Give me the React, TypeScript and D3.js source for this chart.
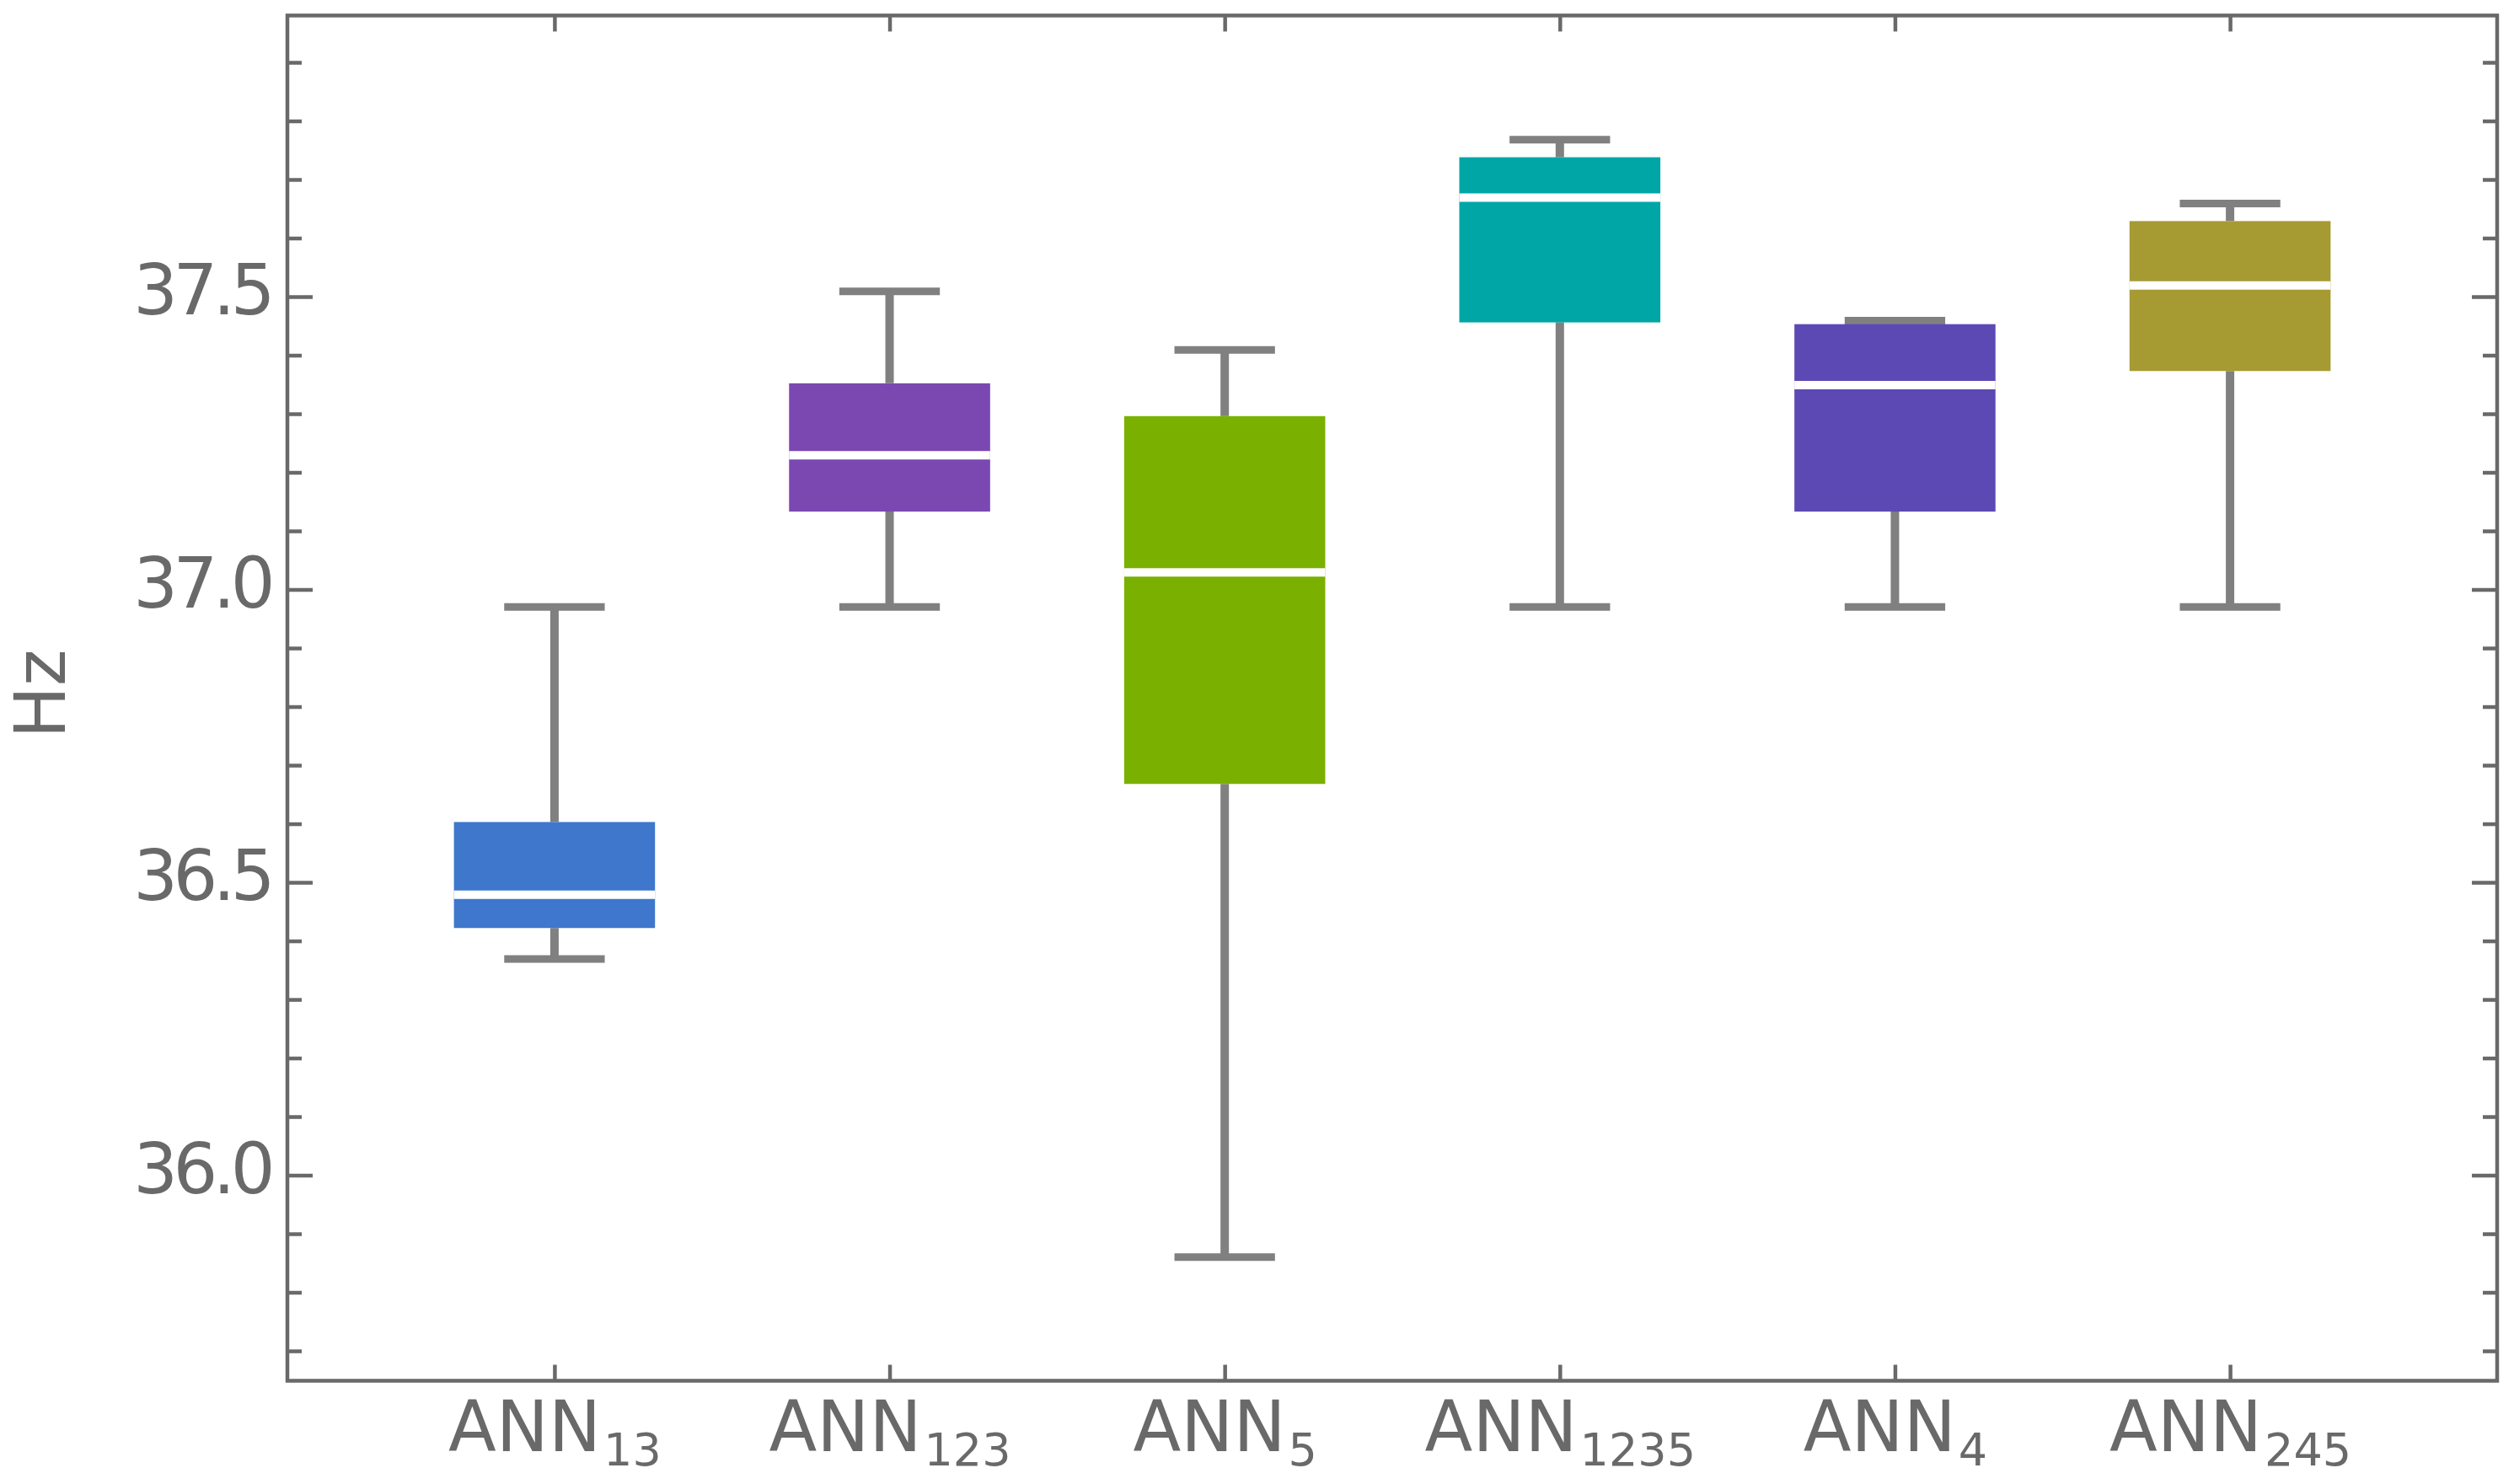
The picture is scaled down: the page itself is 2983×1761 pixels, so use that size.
import React, { useEffect, useRef } from "react";
import * as d3 from "d3";

// Box-and-whisker data per model (Hz)
const categories = ["ANN13", "ANN123", "ANN5", "ANN1235", "ANN4", "ANN245"];
const subscripts = ["13", "123", "5", "1235", "4", "245"];
const whiskerLow = [36.369, 36.97, 35.86, 36.97, 36.97, 36.97];
const q1 = [36.422, 37.133, 36.668, 37.456, 37.133, 37.373];
const median = [36.479, 37.229, 37.029, 37.669, 37.349, 37.519];
const q3 = [36.603, 37.352, 37.296, 37.738, 37.453, 37.629];
const whiskerHigh = [36.97, 37.509, 37.409, 37.768, 37.459, 37.659];
const colors = ["#3e77cc", "#7b48b2", "#7ab100", "#00a6a6", "#5c49b3", "#a69a33"];

const majorTicks = [36.0, 36.5, 37.0, 37.5];
const minorTicks = [
  35.7, 35.8, 35.9, 36.1, 36.2, 36.3, 36.4, 36.6, 36.7, 36.8, 36.9,
  37.1, 37.2, 37.3, 37.4, 37.6, 37.7, 37.8, 37.9,
];

const WIDTH = 2983;
const HEIGHT = 1761;

const BoxChart: React.FC = () => {
  const ref = useRef<HTMLDivElement>(null);

  useEffect(() => {
    if (!ref.current) return;
    const root = d3.select(ref.current);
    root.selectAll("*").remove();

    const frame = { left: 341, right: 2963, top: 18.4, bottom: 1638.5 };
    const axisColor = "#696969";
    const whiskerColor = "#808080";
    const font = "'DejaVu Sans', sans-serif";

    const svg = root
      .append("svg")
      .attr("width", WIDTH)
      .attr("height", HEIGHT)
      .style("display", "block")
      .style("background", "#fff");

    const x = d3
      .scalePoint<string>()
      .domain(categories)
      .range([frame.left, frame.right])
      .padding(0.797);
    const step = x.step();

    const y = d3
      .scaleLinear()
      .domain([35.649, 37.98])
      .range([frame.bottom, frame.top]);

    const data = categories.map((c, i) => ({
      c,
      lo: whiskerLow[i],
      q1: q1[i],
      med: median[i],
      q3: q3[i],
      hi: whiskerHigh[i],
      color: colors[i],
    }));

    const boxW = step * 0.6;
    const capW = step * 0.3;

    const g = svg.append("g");

    // Whiskers
    const wg = g.selectAll("g.whisker").data(data).enter().append("g");
    wg.append("line")
      .attr("x1", (d) => x(d.c)!)
      .attr("x2", (d) => x(d.c)!)
      .attr("y1", (d) => y(d.lo))
      .attr("y2", (d) => y(d.q1))
      .attr("stroke", whiskerColor)
      .attr("stroke-width", 10);
    wg.append("line")
      .attr("x1", (d) => x(d.c)!)
      .attr("x2", (d) => x(d.c)!)
      .attr("y1", (d) => y(d.q3))
      .attr("y2", (d) => y(d.hi))
      .attr("stroke", whiskerColor)
      .attr("stroke-width", 10);
    wg.append("line")
      .attr("x1", (d) => x(d.c)! - capW / 2)
      .attr("x2", (d) => x(d.c)! + capW / 2)
      .attr("y1", (d) => y(d.lo))
      .attr("y2", (d) => y(d.lo))
      .attr("stroke", whiskerColor)
      .attr("stroke-width", 9);
    wg.append("line")
      .attr("x1", (d) => x(d.c)! - capW / 2)
      .attr("x2", (d) => x(d.c)! + capW / 2)
      .attr("y1", (d) => y(d.hi))
      .attr("y2", (d) => y(d.hi))
      .attr("stroke", whiskerColor)
      .attr("stroke-width", 9);

    // Boxes
    g.selectAll("rect.box")
      .data(data)
      .enter()
      .append("rect")
      .attr("class", "box")
      .attr("x", (d) => x(d.c)! - boxW / 2)
      .attr("width", boxW)
      .attr("y", (d) => y(d.q3))
      .attr("height", (d) => y(d.q1) - y(d.q3))
      .attr("fill", (d) => d.color);

    // Medians
    g.selectAll("line.median")
      .data(data)
      .enter()
      .append("line")
      .attr("class", "median")
      .attr("x1", (d) => x(d.c)! - boxW / 2)
      .attr("x2", (d) => x(d.c)! + boxW / 2)
      .attr("y1", (d) => y(d.med))
      .attr("y2", (d) => y(d.med))
      .attr("stroke", "#fff")
      .attr("stroke-width", 10);

    // Frame
    svg
      .append("rect")
      .attr("x", frame.left)
      .attr("y", frame.top)
      .attr("width", frame.right - frame.left)
      .attr("height", frame.bottom - frame.top)
      .attr("fill", "none")
      .attr("stroke", axisColor)
      .attr("stroke-width", 4.5);

    const styleAxis = (sel: d3.Selection<SVGGElement, unknown, null, undefined>) => {
      sel.select(".domain").remove();
      sel.selectAll("line").attr("stroke", axisColor).attr("stroke-width", 4.5);
      sel.selectAll("text")
        .attr("fill", axisColor)
        .style("font-family", font)
        .style("font-size", "83px");
    };

    // Left axis (major with labels, minor without)
    svg.append("g")
      .attr("transform", `translate(${frame.left},0)`)
      .call(d3.axisLeft(y).tickValues(majorTicks).tickSize(-30).tickPadding(20).tickFormat(d3.format(".1f")))
      .call(styleAxis)
      .selectAll("text")
      .attr("dy", "0.25em")
      .attr("letter-spacing", "-5.5px");
    svg.append("g")
      .attr("transform", `translate(${frame.left},0)`)
      .call(d3.axisLeft(y).tickValues(minorTicks).tickSize(-17).tickFormat(() => ""))
      .call(styleAxis);

    // Right axis
    svg.append("g")
      .attr("transform", `translate(${frame.right},0)`)
      .call(d3.axisRight(y).tickValues(majorTicks).tickSize(-30).tickFormat(() => ""))
      .call(styleAxis);
    svg.append("g")
      .attr("transform", `translate(${frame.right},0)`)
      .call(d3.axisRight(y).tickValues(minorTicks).tickSize(-17).tickFormat(() => ""))
      .call(styleAxis);

    // Top axis
    svg.append("g")
      .attr("transform", `translate(0,${frame.top})`)
      .call(d3.axisTop(x).tickSize(-19).tickFormat(() => ""))
      .call(styleAxis);

    // Bottom axis with subscripted labels
    const bottom = svg.append("g")
      .attr("transform", `translate(0,${frame.bottom})`)
      .call(d3.axisBottom(x).tickSize(-19))
      .call(styleAxis);
    bottom.selectAll<SVGTextElement, string>("text")
      .attr("y", 83.5)
      .attr("dy", 0)
      .attr("text-anchor", "middle")
      .text(null)
      .each(function (d) {
        const t = d3.select(this);
        const i = categories.indexOf(d);
        t.append("tspan").text("ANN");
        t.append("tspan")
          .attr("dx", 3)
          .attr("dy", 17)
          .style("font-size", "54px")
          .text(subscripts[i]);
      });

    // Y axis title
    svg.append("text")
      .attr("transform", `translate(77,${(frame.top + frame.bottom) / 2 - 5}) rotate(-90)`)
      .attr("text-anchor", "middle")
      .attr("fill", axisColor)
      .style("font-family", font)
      .style("font-size", "83px")
      .text("Hz");
  }, []);

  return <div ref={ref} style={{ width: WIDTH, height: HEIGHT }}></div>;
};

export default function App() {
  return (
    <div style={{ position: "absolute", left: 0, top: 0 }}>
      <BoxChart />
    </div>
  );
}
